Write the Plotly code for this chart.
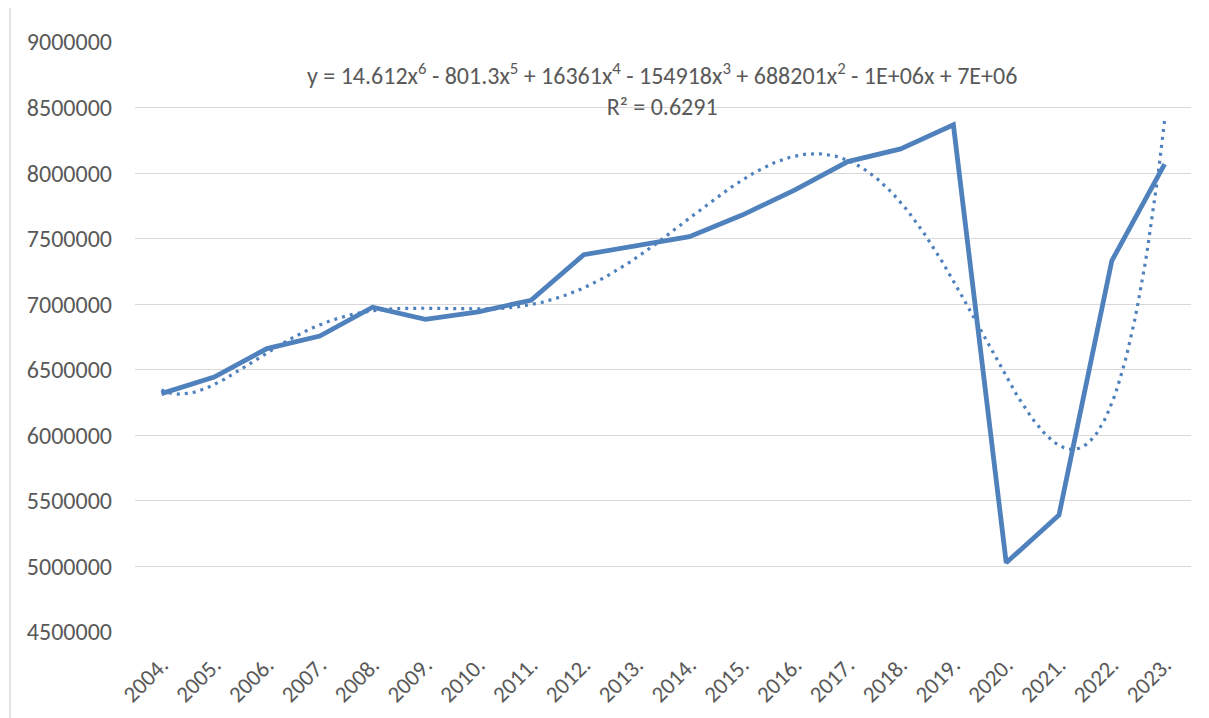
import numpy as np
import plotly.graph_objects as go

years = ["2004.", "2005.", "2006.", "2007.", "2008.", "2009.", "2010.", "2011.", "2012.", "2013.",
         "2014.", "2015.", "2016.", "2017.", "2018.", "2019.", "2020.", "2021.", "2022.", "2023."]
values = [6318000, 6445000, 6662000, 6757000, 6977000, 6884000, 6942000, 7030000, 7378000, 7445000,
          7515000, 7680000, 7872000, 8088000, 8185000, 8368000, 5028000, 5392000, 7331000, 8069000]
y_ticks = [4500000, 5000000, 5500000, 6000000, 6500000, 7000000, 7500000, 8000000, 8500000, 9000000]
equation_text = "y = 14.612x<sup>6</sup> - 801.3x<sup>5</sup> + 16361x<sup>4</sup> - 154918x<sup>3</sup> + 688201x<sup>2</sup> - 1E+06x + 7E+06"
r2_text = "R² = 0.6291"

x_idx = np.arange(1, len(years) + 1)
# 6th-order polynomial trendline fitted to the series (as the spreadsheet does)
coef = np.polyfit(x_idx, values, 6)
x_fine = np.linspace(1, len(years), 400)
trend = np.polyval(coef, x_fine)

blue = "rgb(79,129,189)"
font_family = "Carlito, Calibri, sans-serif"

fig = go.Figure()
fig.add_trace(go.Scatter(x=x_fine, y=trend, mode="lines",
                         line=dict(color=blue, width=3.2, dash="3px,5px"),
                         hoverinfo="skip", showlegend=False))
fig.add_trace(go.Scatter(x=x_idx, y=values, mode="lines",
                         line=dict(color=blue, width=4.8),
                         showlegend=False))

fig.update_layout(
    width=1209, height=718,
    margin=dict(l=127, r=26, t=34, b=94),
    paper_bgcolor="white", plot_bgcolor="white",
    font=dict(family=font_family, size=24, color="#595959"),
    showlegend=False,
)
fig.update_xaxes(
    range=[0.5, len(years) + 0.5], automargin=False,
    tickmode="array", tickvals=list(x_idx), ticktext=years,
    tickangle=-45, showgrid=False, zeroline=False, showline=False,
    ticks="", ticklabelstandoff=14, tickfont=dict(size=23, color="#595959"),
)
fig.update_yaxes(
    range=[4500000, 9000000], automargin=False,
    tickmode="array", tickvals=y_ticks, ticktext=[str(v) for v in y_ticks],
    showgrid=True, gridcolor="#D9D9D9", gridwidth=1.3,
    zeroline=False, showline=False, ticks="", ticklabelstandoff=22,
    tickfont=dict(size=24, color="#595959"),
)
fig.add_annotation(
    xref="paper", yref="paper", x=0.499, y=0.9195,
    text=equation_text + "<br>" + r2_text,
    showarrow=False, align="center", xanchor="center", yanchor="middle",
    font=dict(size=24, color="#595959", family=font_family),
)
fig.add_shape(type="line", xref="paper", yref="paper",
              x0=-0.1184, x1=-0.1184, y0=-0.2, y1=1.1,
              line=dict(color="#D9D9D9", width=1.5))

fig.write_html("out.html")
